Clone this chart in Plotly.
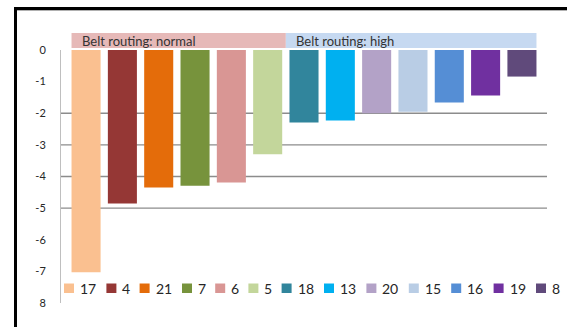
import plotly.graph_objects as go

# Belt positions, change in value and bar colours
positions = ["17", "4", "21", "7", "6", "5", "18", "13", "20", "15", "16", "19", "8"]
values = [-7.03, -4.85, -4.35, -4.29, -4.19, -3.30, -2.29, -2.23, -2.00, -1.95, -1.66, -1.44, -0.84]
colors = ["#FAC090", "#953735", "#E46C0A", "#77933C", "#D99694", "#C3D69B", "#31859C",
          "#00B0F0", "#B3A2C7", "#B9CDE5", "#558ED5", "#7030A0", "#604A7B"]

# Routing groups: label, first and last bar index, band colour
groups = ["Belt routing: normal", "Belt routing: high"]
group_spans = [(0, 5), (6, 12)]
group_colors = ["#E6B9B8", "#C6D9F1"]

y_tickvals = [0, -1, -2, -3, -4, -5, -6, -7, -8]
y_ticktext = ["0", "-1", "-2", "-3", "-4", "-5", "-6", "-7", "8"]
grid_levels = [-2, -3, -4, -5]

FONT = "Lato"
TEXT = "#262626"

# figure geometry (pixels)
FIG_W, FIG_H = 567, 327
L, R, T, B = 61, 547, 50, 303
PW, PH = R - L, B - T


def px_x(px):
    return (px - L) / PW


def px_y(py):
    return (B - py) / PH


fig = go.Figure(
    go.Bar(
        x=positions,
        y=values,
        marker=dict(color=colors, line=dict(width=0)),
        showlegend=False,
        hovertemplate="%{x}: %{y}<extra></extra>",
    )
)

shapes = []
annotations = []

# horizontal gridlines
for lv in grid_levels:
    shapes.append(dict(type="line", xref="paper", yref="y", x0=0, x1=1, y0=lv, y1=lv,
                       line=dict(color="#8C8C8C", width=1.3), layer="below"))

# routing group header bands above the bars
half = 0.4
for gi, (label, (a, b), col) in enumerate(zip(groups, group_spans, group_colors)):
    x0 = a - half if gi == 0 else (group_spans[gi - 1][1] + a) / 2
    x1 = b + half if gi == len(groups) - 1 else (b + group_spans[gi + 1][0]) / 2
    shapes.append(dict(type="rect", xref="x", yref="paper", x0=x0, x1=x1,
                       y0=px_y(48), y1=px_y(33), fillcolor=col, line=dict(width=0)))
    annotations.append(dict(text=label, xref="x", yref="paper", x=x0, xshift=8,
                            y=px_y(40.5), xanchor="left", yanchor="middle", showarrow=False,
                            font=dict(family=FONT, size=13, color="#333333")))

# key row beneath the plot
left = 64
for name, col in zip(positions, colors):
    shapes.append(dict(type="rect", xref="paper", yref="paper",
                       x0=px_x(left), x1=px_x(left + 10), y0=px_y(293), y1=px_y(283.5),
                       fillcolor=col, line=dict(width=0)))
    annotations.append(dict(text=name, xref="paper", yref="paper", x=px_x(left + 14),
                            y=px_y(288.5), xanchor="left", yanchor="middle", showarrow=False,
                            font=dict(family=FONT, size=14, color=TEXT)))
    left += 24 + 9.2 * len(name)

# outer frame edges
shapes.append(dict(type="line", xref="paper", yref="paper", x0=px_x(15.5), x1=px_x(15.5),
                   y0=px_y(7), y1=px_y(340), line=dict(color="black", width=3)))
shapes.append(dict(type="line", xref="paper", yref="paper", x0=px_x(14), x1=px_x(580),
                   y0=px_y(8.5), y1=px_y(8.5), line=dict(color="black", width=3)))
shapes.append(dict(type="line", xref="paper", yref="paper", x0=px_x(17), x1=px_x(580),
                   y0=px_y(10.5), y1=px_y(10.5), line=dict(color="#B0B0B0", width=1)))

fig.update_layout(
    width=FIG_W,
    height=FIG_H,
    margin=dict(l=L, r=FIG_W - R, t=T, b=FIG_H - B, pad=0),
    paper_bgcolor="white",
    plot_bgcolor="white",
    bargap=0.2,
    showlegend=False,
    shapes=shapes,
    annotations=annotations,
    font=dict(family=FONT, color=TEXT),
    xaxis=dict(range=[-0.69, len(positions) - 1 + 0.69], showticklabels=False,
               showgrid=False, zeroline=False, showline=False, ticks=""),
    yaxis=dict(range=[-8, 0], tickvals=y_tickvals, ticktext=y_ticktext,
               showgrid=False, zeroline=False, showline=True, linecolor="#BFBFBF",
               linewidth=1, ticks="", ticklabelstandoff=12,
               tickfont=dict(family=FONT, size=11, color=TEXT)),
)

fig.write_html("out.html")
